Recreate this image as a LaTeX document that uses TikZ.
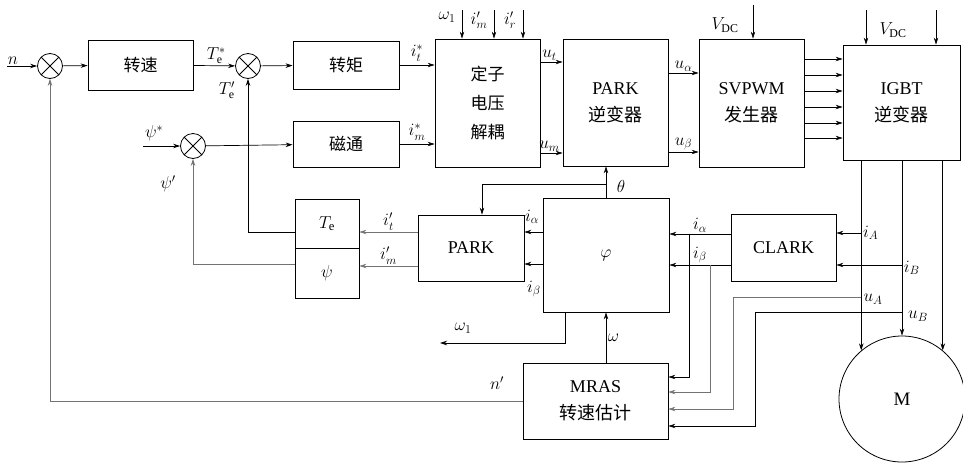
\documentclass[tikz,border=0pt]{standalone}
\usepackage{amsmath}
\usepackage{fontspec}
\setmainfont{Liberation Serif}
\newfontfamily\cjk{Noto Sans CJK SC}
\usetikzlibrary{arrows.meta,positioning,calc}
\tikzset{
  blk/.style={draw,line width=.8pt,align=center,inner sep=2pt,
              font=\fontsize{18}{27}\selectfont},
  zh/.style={font=\cjk\fontsize{17}{29}\selectfont},
  sumj/.style={draw,circle,line width=.8pt,minimum size=25pt,inner sep=0pt,
     path picture={\draw[line width=.8pt]
       (path picture bounding box.north west)--(path picture bounding box.south east)
       (path picture bounding box.north east)--(path picture bounding box.south west);}},
  ar/.style={-{Stealth[length=7pt,width=4.5pt]},line width=.7pt},
  gar/.style={ar,draw=black!55},
  lbl/.style={font=\fontsize{17}{20}\selectfont,inner sep=1.5pt},
}
\begin{document}
\begin{tikzpicture}[x=1pt,y=-1pt]
  \useasboundingbox (0,0) rectangle (963,464);
  % summing points
  \node[sumj] (s1) at (50,66) {};
  \node[sumj] (s2) at (248,66) {};
  \node[sumj] (s3) at (193,146) {};
  % blocks
  \node[blk,zh,minimum width=105pt,minimum height=50pt] (spd) at (140.5,65) {转速};
  \node[blk,zh,minimum width=106pt,minimum height=48pt] (trq) at (346,65) {转矩};
  \node[blk,zh,minimum width=106pt,minimum height=46pt] (flx) at (346,144) {磁通};
  \node[blk,zh,minimum width=105pt,minimum height=128pt] (dec) at (487.5,103) {定子\\电压\\解耦};
  \node[blk,minimum width=105pt,minimum height=127pt] (ipark) at (615.5,102.5) {PARK\\{\cjk 逆变器}};
  \node[blk,minimum width=105pt,minimum height=128pt] (svpwm) at (751.5,103) {SVPWM\\{\cjk 发生器}};
  \node[blk,minimum width=117pt,minimum height=115pt] (igbt) at (901.5,102.5) {IGBT\\{\cjk 逆变器}};
  \node[blk,minimum width=105pt,minimum height=67pt] (clark) at (783.5,247.5) {CLARK};
  \node[blk,minimum width=126pt,minimum height=114pt] (phi) at (606,255) {$\varphi$};
  \node[blk,minimum width=106pt,minimum height=66pt] (park) at (471,248) {PARK};
  \node[blk,minimum width=64pt,minimum height=49pt] (te) at (327,223.5) {$T_{\mathrm e}$};
  \node[blk,minimum width=64pt,minimum height=50pt] (psi) at (327,273) {$\psi$};
  \node[blk,minimum width=145pt,minimum height=76pt] (mras) at (595.5,401) {MRAS\\{\cjk 转速估计}};
  \node[blk,circle,minimum size=126pt,font=\fontsize{19}{22}\selectfont] (motor) at (902,399) {M};

  % speed / torque / flux path
  \coordinate (nin) at (7,66);
  \draw[ar] (nin) -- node[lbl,above,pos=.2]{$n$} (s1);
  \draw[ar] (s1) -- (spd);
  \draw[ar] (spd) -- node[lbl,above,xshift=2pt]{$T_{\mathrm e}^{*}$} (s2);
  \draw[ar] (s2) -- (trq);
  \coordinate (psin) at (143,146);
  \draw[ar] (psin) -- node[lbl,above,pos=.3,yshift=3pt]{$\psi^{*}$} (s3);
  \draw[ar] (s3) -- (flx);
  \node[lbl] at (227,90) {$T'_{\mathrm e}$};
  \node[lbl] at (168,184) {$\psi'$};
  \draw[ar] (trq) -- node[lbl,above,yshift=2pt]{$i_t^{*}$} (trq -| dec.west);
  \draw[ar] (flx) -- node[lbl,above,yshift=2pt]{$i_m^{*}$} (flx -| dec.west);

  % decoupling inputs
  \foreach \x [count=\k] in {462,494,523}{
    \coordinate (top\k) at (\x,10);
    \draw[ar] (top\k) -- (top\k |- dec.north);}
  \node[lbl] at (447,17) {$\omega_1$};
  \node[lbl] at (479,20) {$i'_m$};
  \node[lbl] at (510,20) {$i'_r$};

  \draw[ar] (dec.east |- 0,62) -- node[lbl,above,xshift=-2pt]{$u_t$} (ipark.west |- 0,62);
  \draw[ar] (dec.east |- 0,153) -- node[lbl,above,xshift=-2pt]{$u_m$} (ipark.west |- 0,153);
  \draw[ar] (ipark.east |- 0,73) -- node[lbl,above]{$u_\alpha$} (svpwm.west |- 0,73);
  \draw[ar] (ipark.east |- 0,152) -- node[lbl,above]{$u_\beta$} (svpwm.west |- 0,152);
  \foreach \y in {59,75,91,107,123,138}
    \draw[ar] (svpwm.east |- 0,\y) -- (igbt.west |- 0,\y);

  % DC link
  \coordinate (vd1) at (753,5);
  \coordinate (vd2) at (866,10);
  \coordinate (vd3) at (936,10);
  \draw[ar] (vd1) -- (vd1 |- svpwm.north);
  \draw[ar] (vd2) -- (vd2 |- igbt.north);
  \draw[ar] (vd3) -- (vd3 |- igbt.north);
  \node[lbl] at (725,25) {$V_{\mathrm{DC}}$};
  \node[lbl] at (893,30) {$V_{\mathrm{DC}}$};

  % inverter to motor, measurements
  \foreach \a in {130,90,50}
    \draw[ar] (motor.\a |- igbt.south) -- (motor.\a);
  \draw[ar] (motor.130 |- 0,233) -- node[lbl,right,at start]{$i_A$} (clark.east |- 0,233);
  \draw[ar] (motor.90 |- 0,265) -- node[lbl,right,at start,yshift=-3pt]{$i_B$} (clark.east |- 0,265);
  \draw[gar] (motor.130 |- 0,297) -| (733,409) -- (mras.east |- 0,409);
  \draw[ar] (motor.90 |- 0,312) -| (755,426) -- (mras.east |- 0,426);
  \node[lbl] at (873,299) {$u_A$};
  \node[lbl] at (918,316) {$u_B$};

  % Clark outputs
  \draw[ar] (clark.west |- 0,234) -- node[lbl,above]{$i_\alpha$} (phi.east |- 0,234);
  \draw[ar] (clark.west |- 0,265) -- node[lbl,above]{$i_\beta$} (phi.east |- 0,265);
  \draw[ar] (689,234) |- (mras.east |- 0,377);
  \draw[gar] (710,265) |- (mras.east |- 0,392);

  % angle block
  \draw[ar] (phi.west |- 0,232) -- (park.east |- 0,232);
  \draw[ar] (phi.west |- 0,264) -- (park.east |- 0,264);
  \node[lbl] at (532,217) {$i_\alpha$};
  \node[lbl] at (534,289) {$i_\beta$};
  \draw[ar] (phi.north) -- (phi.north |- ipark.south);
  \coordinate (th) at (phi.north |- 0,184);
  \draw[ar] (th) -| (park.north -| 482,0);
  \node[lbl] at (621,186) {$\theta$};
  \draw[ar] (phi.south |- mras.north) -- node[lbl,right]{$\omega$} (phi.south);
  \coordinate (w1o) at (440,343);
  \draw[ar] (phi.south -| 565,0) |- (w1o);
  \node[lbl] at (463,328) {$\omega_1$};

  % estimated torque and flux
  \draw[gar] (park.west |- 0,232) -- node[lbl,above]{$i'_t$} (te.east |- 0,232);
  \draw[gar] (park.west |- 0,266) -- node[lbl,above]{$i'_m$} (psi.east |- 0,266);
  \draw[ar] (te.west |- 0,232) -| (s2.south);
  \draw[gar] (psi.west |- 0,264) -| (s3.south);

  % speed feedback
  \draw[gar] (mras.west) -| (s1.south);
  \node[lbl] at (497,383) {$n'$};
\end{tikzpicture}
\end{document}
